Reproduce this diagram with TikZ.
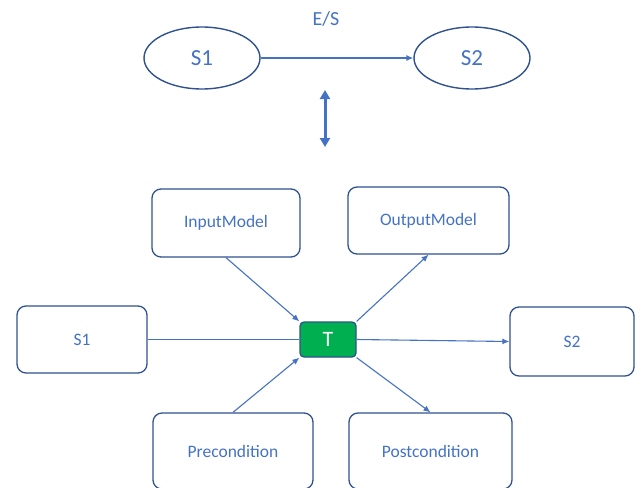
\documentclass[tikz,border=0pt]{standalone}
\usepackage{fontspec}
\setmainfont{Carlito}
\usetikzlibrary{positioning,arrows.meta,shapes.geometric}
\definecolor{lineblue}{RGB}{68,114,196}
\definecolor{darkblue}{RGB}{47,82,143}
\definecolor{tgreen}{RGB}{0,176,80}

\begin{document}
\begin{tikzpicture}[x=1pt,y=-1pt,
	state/.style={ellipse,draw=darkblue,line width=1.4pt,minimum width=116pt,minimum height=62pt,text=lineblue,font=\fontsize{23}{26}\selectfont},
	box/.style={draw=darkblue,line width=1.3pt,rounded corners=9pt,inner sep=0pt,text=lineblue,font=\fontsize{17.5}{20}\selectfont},
	link/.style={draw=lineblue,line width=1.1pt,>={Latex[length=7pt,width=6pt]}}]
	\useasboundingbox (0,0) rectangle (642,487);
	% state level
	\node[state] (s1top) at (202,58) {S1};
	\node[state] (s2top) at (472,58) {S2};
	\node[text=lineblue,font=\fontsize{20}{23}\selectfont] (es) at (326,19) {E/S};
	\draw[link,->] (s1top.east) -- (s2top.west);
	\coordinate (up) at (325,90);
	\coordinate (down) at (325,147);
	\draw[link,line width=3pt,>={Triangle[length=9pt,width=10pt]},<->] (up) -- (down);
	% transformation level
	\node[box,minimum width=56pt,minimum height=35pt,rounded corners=4pt,fill=tgreen,text=white,font=\fontsize{22}{25}\selectfont] (t) at (328,339.5) {T};
	\node[box,minimum width=148pt,minimum height=68pt] (inmodel) at (226,223) {InputModel};
	\node[box,minimum width=161pt,minimum height=67pt] (outmodel) at (428.5,220.5) {OutputModel};
	\node[box,minimum width=130pt,minimum height=67pt] (s1) at (82,339.5) {S1};
	\node[box,minimum width=124pt,minimum height=69pt] (s2) at (572,341.5) {S2};
	\node[box,minimum width=160pt,minimum height=76pt] (pre) at (233,451) {Precondition};
	\node[box,minimum width=163pt,minimum height=76pt] (post) at (430.5,451) {Postcondition};
	\draw[link,->] (inmodel.south) -- (t.north west);
	\draw[link,->] (t.north east) -- (outmodel.south);
	\draw[link,->] (pre.north) -- (t.south west);
	\draw[link,->] (t.south east) -- (post.north);
	\draw[link] (s1.east) -- (t.west);
	\draw[link,->] (t.east) -- (s2.west);
\end{tikzpicture}
\end{document}
